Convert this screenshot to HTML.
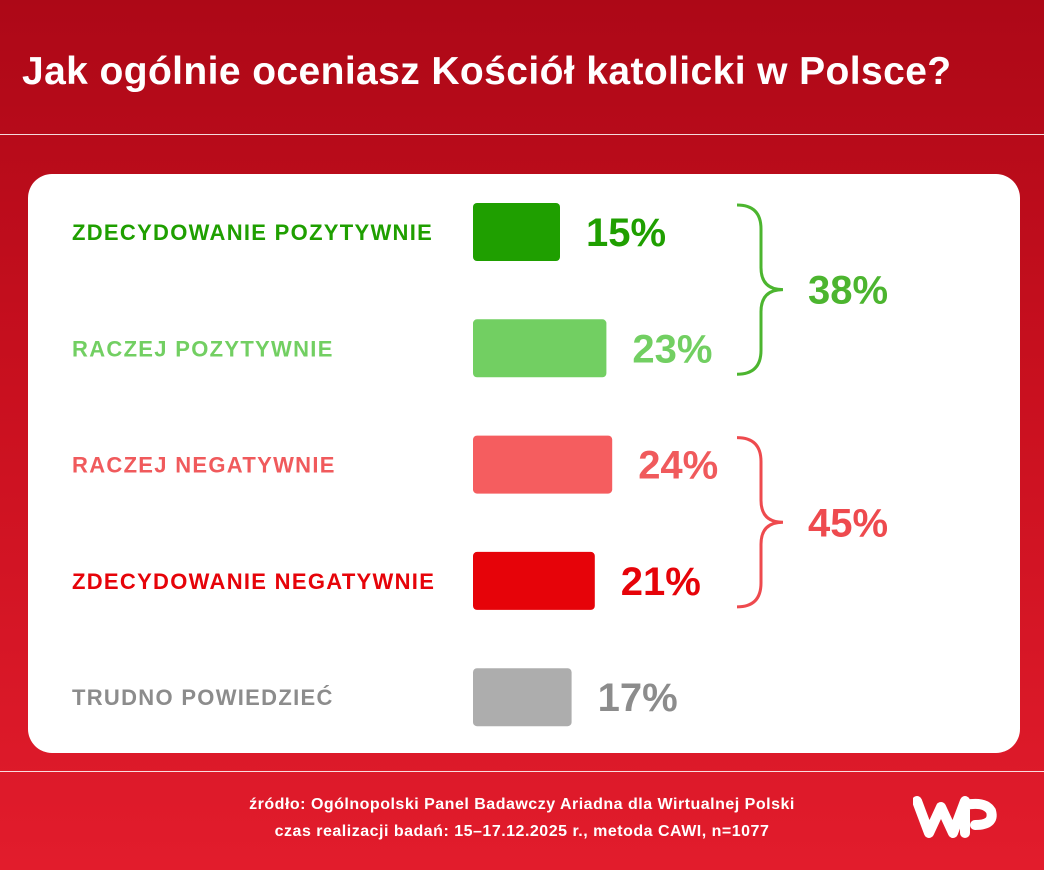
<!DOCTYPE html>
<html><head><meta charset="utf-8"><style>
body{margin:0;width:1044px;height:870px;overflow:hidden;font-family:"Liberation Sans",sans-serif;}
#bg{position:absolute;left:0;top:0;width:1044px;height:870px;background:linear-gradient(180deg,#ad0817 0%,#c9101f 45%,#e21c2c 100%);}
#title{position:absolute;left:22px;top:50px;color:#fff;font-size:39px;font-weight:bold;letter-spacing:0.4px;white-space:nowrap;}
.rule{position:absolute;left:0;width:1044px;height:1px;background:rgba(255,255,255,0.85);}
#card{position:absolute;left:28px;top:174px;width:992px;height:579px;background:#fff;border-radius:24px;}
.foot{position:absolute;left:0;width:1044px;text-align:center;color:#fff;font-weight:bold;font-size:16px;letter-spacing:0.5px;}
</style></head><body>
<div id="bg"></div>
<div id="title">Jak ogólnie oceniasz Kościół katolicki w Polsce?</div>
<div class="rule" style="top:134px"></div>
<div id="card"></div>
<svg id="chart" width="1044" height="870" style="position:absolute;left:0;top:0"></svg>
<div class="rule" style="top:771px"></div>
<div class="foot" style="top:796px">źródło: Ogólnopolski Panel Badawczy Ariadna dla Wirtualnej Polski</div>
<div class="foot" style="top:823px">czas realizacji badań: 15–17.12.2025 r., metoda CAWI, n=1077</div>
<svg width="90" height="50" style="position:absolute;left:913px;top:793px">
<path d="M4 8 L16 40 L28 14 L40 40 L52 8" fill="none" stroke="#fff" stroke-width="10" stroke-linejoin="round" stroke-linecap="round"/>
<path d="M52 40 L52 12 Q72 8 78 18 Q82 32 62 32" fill="none" stroke="#fff" stroke-width="10" stroke-linecap="round"/>
</svg>
<script>
const categories=["ZDECYDOWANIE POZYTYWNIE","RACZEJ POZYTYWNIE","RACZEJ NEGATYWNIE","ZDECYDOWANIE NEGATYWNIE","TRUDNO POWIEDZIEĆ"];
const values=[15,23,24,21,17];
const barColors=["#1f9f00","#72cf62","#f55d5f","#e60309","#adadad"];
const textColors=["#1f9f00","#72cf62","#f05a5c","#e60309","#8c8c8c"];
const groupTotals=[38,45];
const groupRanges=[[0,1],[2,3]];
const groupColors=["#4cb52f","#ee4a4e"];
const NS="http://www.w3.org/2000/svg";
const svg=document.getElementById('chart');
const x0=473,pxPer=5.8,y0=203,step=116.3,bh=58;
const xs=v=>v*pxPer, ys=i=>y0+i*step;
function el(t,a){const e=document.createElementNS(NS,t);for(const k in a)e.setAttribute(k,a[k]);svg.appendChild(e);return e;}
categories.forEach((c,i)=>{
 const l=el('text',{x:72,y:ys(i)+bh/2+8,fill:textColors[i],'font-size':22,'font-weight':'bold','letter-spacing':1.3});l.textContent=c;
 
 
 const r=el('rect',{x:x0,y:ys(i),width:xs(values[i]),height:bh,rx:4,fill:barColors[i]});
 
 
 const v=el('text',{x:x0+xs(values[i])+26,y:ys(i)+bh/2+14,fill:textColors[i],'font-size':40,'font-weight':'bold'});v.textContent=values[i]+'%';
 
 
});
groupRanges.forEach((g,k)=>{
 const t=ys(g[0])+2,b=ys(g[1])+bh-3,m=(t+b)/2,x=737;
 const p=el('path',{d:`M${x} ${t} Q${x+24} ${t} ${x+24} ${t+24} L${x+24} ${m-22} Q${x+24} ${m} ${x+46} ${m} Q${x+24} ${m} ${x+24} ${m+22} L${x+24} ${b-24} Q${x+24} ${b} ${x} ${b}`,fill:'none',stroke:groupColors[k],'stroke-width':3});
 
 
 const tx=el('text',{x:808,y:m+14,fill:groupColors[k],'font-size':40,'font-weight':'bold'});tx.textContent=groupTotals[k]+'%';
 
 
});
</script>
</body></html>
